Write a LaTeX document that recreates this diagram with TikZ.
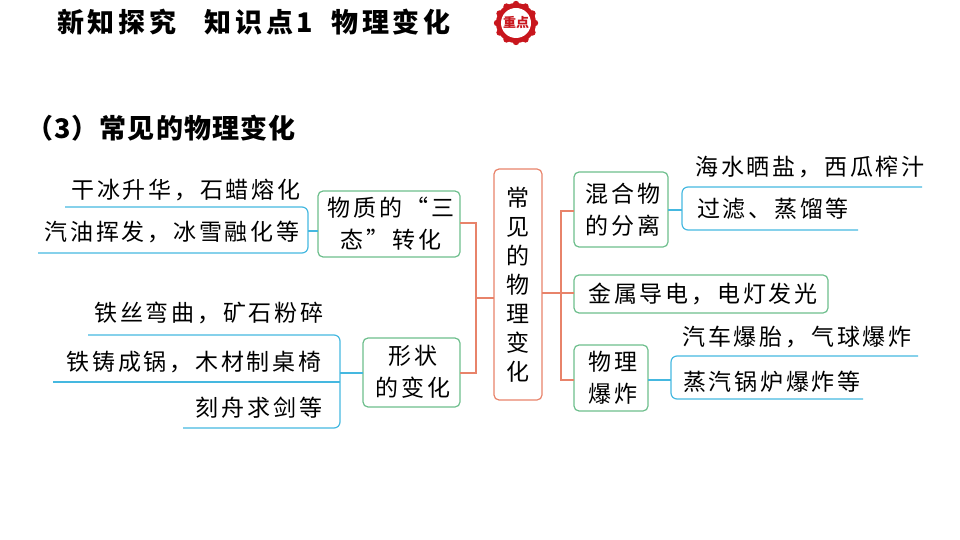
\documentclass[tikz,border=0pt]{standalone}
\usepackage{fontspec}
\setmainfont{Noto Sans CJK SC}
\definecolor{org}{HTML}{E8836A}
\definecolor{grn}{HTML}{6DBE8C}
\definecolor{cyn}{HTML}{45B8E0}
\definecolor{rd}{HTML}{C8161D}
\begin{document}
\begin{tikzpicture}[x=1pt,y=-1pt,
  txt/.style={font=\fontsize{23}{26}\selectfont\addfontfeature{LetterSpace=12}, inner sep=0pt},
  gbox/.style={draw=grn, line width=1.2pt, rounded corners=5pt},
  obox/.style={draw=org, line width=1.2pt, rounded corners=5pt},
  oline/.style={draw=org, line width=1.2pt},
  cline/.style={draw=cyn, line width=1.2pt, rounded corners=6pt},
]
\useasboundingbox (0,0) rectangle (960,540);
% title
\node[anchor=west, inner sep=0pt, font=\fontsize{27}{30}\selectfont\bfseries\addfontfeature{LetterSpace=14}] (t1) at (57,22) {新知探究\hspace{28pt}知识点1\hspace{18pt}物理变化};
\node[circle, fill=rd, minimum size=40pt, inner sep=0pt] (bd) at (516,23) {};
\foreach \a in {0,30,...,330}{\fill[rd] (bd.center) ++(\a:19pt) circle (3.2pt);}
\node[circle, fill=white, minimum size=30pt, inner sep=0pt] (bdi) at (516,23) {};
\node[inner sep=0pt, text=rd, font=\fontsize{13}{14}\selectfont\bfseries] (bdt) at (516,23) {重点};
\node[anchor=west, inner sep=0pt, font=\fontsize{27}{30}\selectfont\bfseries\addfontfeature{LetterSpace=4}] (t2) at (26,128) {（3）常见的物理变化};
% center
\draw[obox] (494,169) rectangle (542,400);
\node[txt, align=center] (c) at (518,285) {常\\[3pt]见\\[3pt]的\\[3pt]物\\[3pt]理\\[3pt]变\\[3pt]化};
% left boxes
\draw[gbox] (318,191) rectangle (460,257);
\node[txt, align=center] (l1) at (391,224) {物质的“三\\[6pt]态”转化};
\draw[gbox] (363,338) rectangle (460,407);
\node[txt, align=center] (l2) at (413,372) {形状\\[6pt]的变化};
\draw[oline] (494,298) -- (476,298);
\draw[oline] (460,223) -- (476,223) -- (476,373) -- (460,373);
% right boxes
\draw[gbox] (574,172) rectangle (668,247);
\node[txt, align=center] (r1) at (623,210) {混合物\\[6pt]的分离};
\draw[gbox] (574,275) rectangle (828,313);
\node[txt] (r2) at (703,294) {金属导电，电灯发光};
\draw[gbox] (574,345) rectangle (648,411);
\node[txt, align=center] (r3) at (613,378) {物理\\[6pt]爆炸};
\draw[oline] (542,293) -- (574,293);
\draw[oline] (574,211) -- (561,211) -- (561,380) -- (574,380);
% left leaves 1
\draw[cyn, line width=1.2pt] (318,231) -- (308,231);
\draw[cline] (65,207) -- (308,207) -- (308,253) -- (38,253);
\node[txt] (a1) at (186,190) {干冰升华，石蜡熔化};
\node[txt] (a2) at (172,232) {汽油挥发，冰雪融化等};
% left leaves 2
\draw[cyn, line width=1.2pt] (363,373) -- (340,373);
\draw[cline] (88,335) -- (340,335) -- (340,428) -- (183,428);
\draw[cyn, line width=1.2pt] (53,382) -- (340,382);
\node[txt] (b1) at (209,313) {铁丝弯曲，矿石粉碎};
\node[txt] (b2) at (194,362) {铁铸成锅，木材制桌椅};
\node[txt] (b3) at (259,408) {刻舟求剑等};
% right leaves 1
\draw[cyn, line width=1.2pt] (668,210) -- (682,210);
\draw[cline] (922,187) -- (682,187) -- (682,230) -- (858,230);
\node[txt] (d1) at (810,167) {海水晒盐，西瓜榨汁};
\node[txt, anchor=west] (d2) at (697,209) {过滤、蒸馏等};
% right leaves 3
\draw[cyn, line width=1.2pt] (648,380) -- (671,380);
\draw[cline] (918,356) -- (671,356) -- (671,399) -- (863,399);
\node[txt] (e1) at (797,337) {汽车爆胎，气球爆炸};
\node[txt, anchor=west] (e2) at (683,382) {蒸汽锅炉爆炸等};
\end{tikzpicture}
\end{document}
